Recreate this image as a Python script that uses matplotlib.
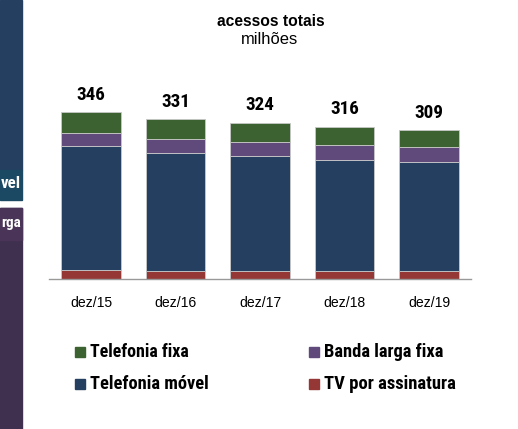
import numpy as np
import matplotlib.pyplot as plt
from matplotlib import font_manager
from matplotlib.patches import Rectangle

# Dados (milhões de acessos)
anos = ['dez/15', 'dez/16', 'dez/17', 'dez/18', 'dez/19']
totais = [346, 331, 324, 316, 309]
tv = np.array([18.5, 17.5, 16.8, 16.5, 15.6])
movel = np.array([257.8, 244.1, 238.0, 229.6, 228.0])
banda = np.array([26.0, 28.0, 28.6, 31.1, 31.1])
fixa = np.array([43.7, 41.8, 40.8, 38.8, 34.0])

c_fixa = '#3C6231'
c_banda = '#604A7B'
c_movel = '#243F60'
c_tv = '#953735'

# fonte estreita se houver, senão Liberation Sans
nomes = {f.name for f in font_manager.fontManager.ttflist}
estreita = 'Liberation Sans'
for cand in ['Liberation Sans Narrow', 'Arial Narrow', 'Roboto Condensed', 'DejaVu Sans Condensed']:
    if cand in nomes:
        estreita = cand
        break
normal = ['Liberation Sans', 'DejaVu Sans']
plt.rcParams['font.family'] = [estreita, 'DejaVu Sans']

W, H = 518, 429
fig = plt.figure(figsize=(W / 100, H / 100), dpi=100)
rend = fig.canvas.get_renderer()


def ajusta(txt, larg_px):
    # ajusta o tamanho da fonte para a largura medida na referência
    w = txt.get_window_extent(rend).width
    txt.set_fontsize(txt.get_fontsize() * larg_px / w)


# faixa cortada do slide ao lado
fig.patches.append(Rectangle((0, 1 - 170 / H), 22 / W, 170 / H, transform=fig.transFigure,
                             color='#243F60', zorder=0))
fig.patches.append(Rectangle((0, 1 - 200 / H), 22 / W, 30 / H, transform=fig.transFigure,
                             color='#1B4862', zorder=0))
fig.patches.append(Rectangle((0, 0), 22 / W, 1 - 208 / H, transform=fig.transFigure,
                             color='#40304F', zorder=0))
fig.patches.append(Rectangle((0, 1 - 240 / H), 22 / W, 32 / H, transform=fig.transFigure,
                             color='#4A3558', zorder=0))
t = fig.text(20.5 / W, 1 - 184 / H, 'vel', color='white', fontsize=12,
             fontweight='bold', ha='right', va='center')
ajusta(t, 20)
t = fig.text(20.5 / W, 1 - 223 / H, 'rga', color='white', fontsize=12,
             fontweight='bold', ha='right', va='center')
ajusta(t, 20)

# eixo
px_un = 0.4818
y0 = 279
topo = 60
ax = fig.add_axes([48.75 / W, (H - y0) / H, 422.5 / W, (y0 - topo) / H])
ax.set_xlim(-0.5, 4.5)
ax.set_ylim(0, (y0 - topo) / px_un)

x = np.arange(len(anos))
larg = 0.71
kw = dict(width=larg, edgecolor='#C8C8C8', linewidth=0.6)
ax.bar(x, tv, color=c_tv, label='TV por assinatura', **kw)
ax.bar(x, movel, bottom=tv, color=c_movel, label='Telefonia móvel', **kw)
ax.bar(x, banda, bottom=tv + movel, color=c_banda, label='Banda larga fixa', **kw)
ax.bar(x, fixa, bottom=tv + movel + banda, color=c_fixa, label='Telefonia fixa', **kw)

for xi, tot, h in zip(x, totais, tv + movel + banda + fixa):
    t = ax.annotate(str(tot), (xi, h), xytext=(0, 9), textcoords='offset points',
                    ha='center', va='baseline', fontsize=15, fontweight='bold')
    ajusta(t, 29)

for s in ['top', 'right', 'left']:
    ax.spines[s].set_visible(False)
ax.spines['bottom'].set_color('#999999')
ax.spines['bottom'].set_linewidth(1)
ax.set_yticks([])
ax.set_xticks(x)
t = fig.text(0, 0, anos[0], fontsize=12, family=normal)
ajusta(t, 42)
ax.set_xticklabels(anos, fontsize=t.get_fontsize(), family=normal)
t.remove()
ax.tick_params(axis='x', length=0, pad=12)

t = fig.text(271 / W, 1 - 21 / H, 'acessos totais', ha='center', va='center',
             fontsize=12, fontweight='bold', family=normal)
ajusta(t, 107)
t = fig.text(270 / W, 1 - 40 / H, 'milhões', ha='center', va='center', fontsize=11.5,
             family=normal)
ajusta(t, 57)

# legenda
itens = [('Telefonia fixa', c_fixa, 75, 352, 99), ('Banda larga fixa', c_banda, 309, 352, 120),
         ('Telefonia móvel', c_movel, 75, 384, 118), ('TV por assinatura', c_tv, 309, 384, 132)]
for nome, cor, lx, ly, lw in itens:
    fig.patches.append(Rectangle((lx / W, 1 - (ly + 5) / H), 10 / W, 10 / H,
                                 transform=fig.transFigure, color=cor))
    t = fig.text((lx + 15) / W, 1 - ly / H, nome, ha='left', va='center',
                 fontsize=13.5, fontweight='bold')
    ajusta(t, lw)

fig.savefig('out.png', dpi=100)
